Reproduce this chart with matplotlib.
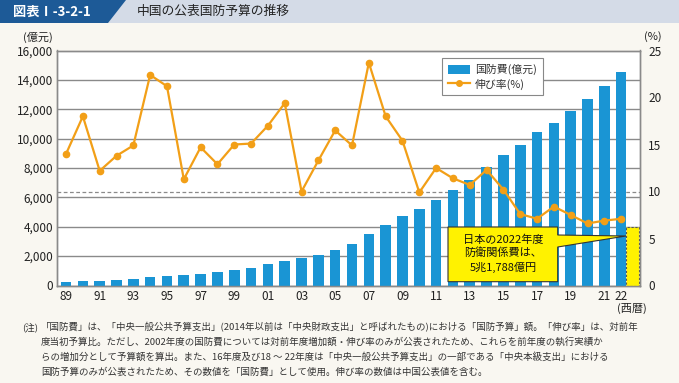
import matplotlib
matplotlib.use('Agg')
import matplotlib.pyplot as plt
from matplotlib.patches import Polygon, Rectangle, Patch
from matplotlib.lines import Line2D
import numpy as np

plt.rcParams['font.family'] = ['Noto Sans CJK JP', 'DejaVu Sans']

# ---------------- data ----------------
years = list(range(1989, 2023))
budget = [251, 290, 330, 378, 426, 551, 637, 715, 813, 935,
          1077, 1208, 1442, 1660, 1853, 2100, 2447, 2838, 3509, 4099,
          4729, 5191, 5836, 6503, 7202, 8082, 8869, 9544, 10433, 11070,
          11899, 12680, 13553, 14504]
growth = [14.0, 18.0, 12.2, 13.8, 14.9, 22.4, 21.2, 11.3, 14.7, 12.9,
          15.0, 15.1, 17.0, 19.4, 10.0, 13.3, 16.5, 14.9, 23.7, 18.0,
          15.4, 9.9, 12.5, 11.4, 10.7, 12.3, 10.2, 7.6, 7.1, 8.4,
          7.5, 6.6, 6.9, 7.1]
japan_value = 4000
ref_rate = 10
xlabels = [f"{y % 100:02d}" if (y % 2 == 1 or y == 2022) else "" for y in years]
left_ticks = list(range(0, 16001, 2000))
right_ticks = [0, 5, 10, 15, 20, 25]

note_lines = [
    "「国防費」は、「中央一般公共予算支出」(2014年以前は「中央財政支出」と呼ばれたもの)における「国防予算」額。「伸び率」は、対前年",
    "度当初予算比。ただし、2002年度の国防費については対前年度増加額・伸び率のみが公表されたため、これらを前年度の執行実績か",
    "らの増加分として予算額を算出。また、16年度及び18 ～ 22年度は「中央一般公共予算支出」の一部である「中央本級支出」における",
    "国防予算のみが公表されたため、その数値を「国防費」として使用。伸び率の数値は中国公表値を含む。",
]

# ---------------- layout ----------------
W, H = 679, 383
bg = '#f9f7f1'
bar_c = '#1a95d4'
line_c = '#f29f17'
grid_c = '#8a8a8a'
txt_c = '#222222'

fig = plt.figure(figsize=(W / 100, H / 100), dpi=100)
fig.patch.set_facecolor(bg)

def fx(px):
    return px / W

def fy(py):
    return 1 - py / H

# header
fig.add_artist(Rectangle((0, fy(23)), 1, 23 / H, transform=fig.transFigure,
                         facecolor='#d4dbe7', edgecolor='none', zorder=1))
fig.add_artist(Polygon([(fx(0), fy(0)), (fx(126), fy(0)), (fx(108), fy(23)), (fx(0), fy(23))],
                       closed=True, transform=fig.transFigure, facecolor='#1d5a97',
                       edgecolor='none', zorder=2))
fig.text(fx(13), fy(11.5), "図表Ⅰ-3-2-1", color='white', fontsize=9.5, fontweight='bold',
         ha='left', va='center')
fig.text(fx(137), fy(11.5), "中国の公表国防予算の推移", color=txt_c, fontsize=9.2,
         ha='left', va='center')

# axes
ax_l, ax_r, ax_t, ax_b = 57.3, 640, 50.5, 285.5
ax = fig.add_axes([fx(ax_l), fy(ax_b), (ax_r - ax_l) / W, (ax_b - ax_t) / H])
ax.set_facecolor('white')
x = np.arange(len(years))
ax.bar(x, budget, width=0.63, color=bar_c, zorder=3)
ax.bar(len(years) - 1 + 0.68, japan_value, width=0.77, color='#fff200',
       edgecolor='#555555', linestyle=(0, (2, 1.5)), linewidth=0.8, zorder=3)
ax.set_xlim(-0.52, 34.12)
ax.set_ylim(0, 16000)
ax.set_yticks(left_ticks)
ax.set_yticklabels([f"{v:,}" for v in left_ticks])
ax.set_xticks(x)
ax.set_xticklabels(xlabels)
ax.grid(axis='y', color=grid_c, lw=1, zorder=1)
ax.axhline(16000 * ref_rate / 25, color='#8a8a8a', ls=(0, (3, 2)), lw=0.9, zorder=2)
ax.tick_params(axis='y', length=0, labelsize=8.5, colors=txt_c, pad=3)
ax.tick_params(axis='x', length=0, labelsize=8.5, colors=txt_c, pad=3)
for s in ax.spines.values():
    s.set_color(grid_c)
    s.set_linewidth(1)

ax2 = ax.twinx()
ax2.set_ylim(0, 25)
ax2.set_yticks(right_ticks)
ax2.tick_params(axis='y', length=0, labelsize=8.5, colors=txt_c, pad=6)
ax2.plot(x, growth, color=line_c, lw=1.6, marker='o', ms=4.5, zorder=4)
for s in ax2.spines.values():
    s.set_color(grid_c)
    s.set_linewidth(1)

leg = ax2.legend(handles=[Patch(facecolor=bar_c, edgecolor='none'),
                          Line2D([0], [0], color=line_c, lw=1.6, marker='o', ms=4)],
                 labels=["国防費(億元)", "伸び率(%)"],
                 loc='upper left', bbox_to_anchor=(fx(442), fy(58)),
                 bbox_transform=fig.transFigure, borderaxespad=0, fontsize=7.8,
                 frameon=True, fancybox=False, framealpha=1, edgecolor='#888888',
                 handlelength=2.0, handleheight=0.9, borderpad=0.55, labelspacing=0.3,
                 handletextpad=0.5)
leg.get_frame().set_linewidth(0.8)
leg.set_zorder(10)
for t in leg.get_texts():
    t.set_color('#333333')

# axis unit labels
fig.text(fx(38), fy(37), "(億元)", fontsize=8, color=txt_c, ha='center', va='center')
fig.text(fx(653), fy(37), "(%)", fontsize=8, color=txt_c, ha='center', va='center')
fig.text(fx(632), fy(308), "(西暦)", fontsize=8, color=txt_c, ha='center', va='center')

# callout
bx0, bx1, by0, by1 = 448, 557.7, 227, 281.7
pts = [(bx0, by0), (bx1, by0), (bx1, 235), (626, 236), (bx1, 247), (bx1, by1), (bx0, by1)]
fig.add_artist(Polygon([(fx(a), fy(b)) for a, b in pts], closed=True, transform=fig.transFigure,
                       facecolor='#fff200', edgecolor='#333333', linewidth=0.8, zorder=20))
fig.text(fx((bx0 + bx1) / 2), fy(253.5), "日本の2022年度\n防衛関係費は、\n5兆1,788億円",
         fontsize=8, color='#111111', ha='center', va='center', linespacing=1.35, zorder=21)

# notes
fig.text(fx(22), fy(327), "(注)", fontsize=6.8, color='#333333', ha='left', va='center')
for i, line in enumerate(note_lines):
    fig.text(fx(41), fy(327 + i * 15), line, fontsize=6.8, color='#333333',
             ha='left', va='center')

fig.savefig('out.png', dpi=100, facecolor=bg)
